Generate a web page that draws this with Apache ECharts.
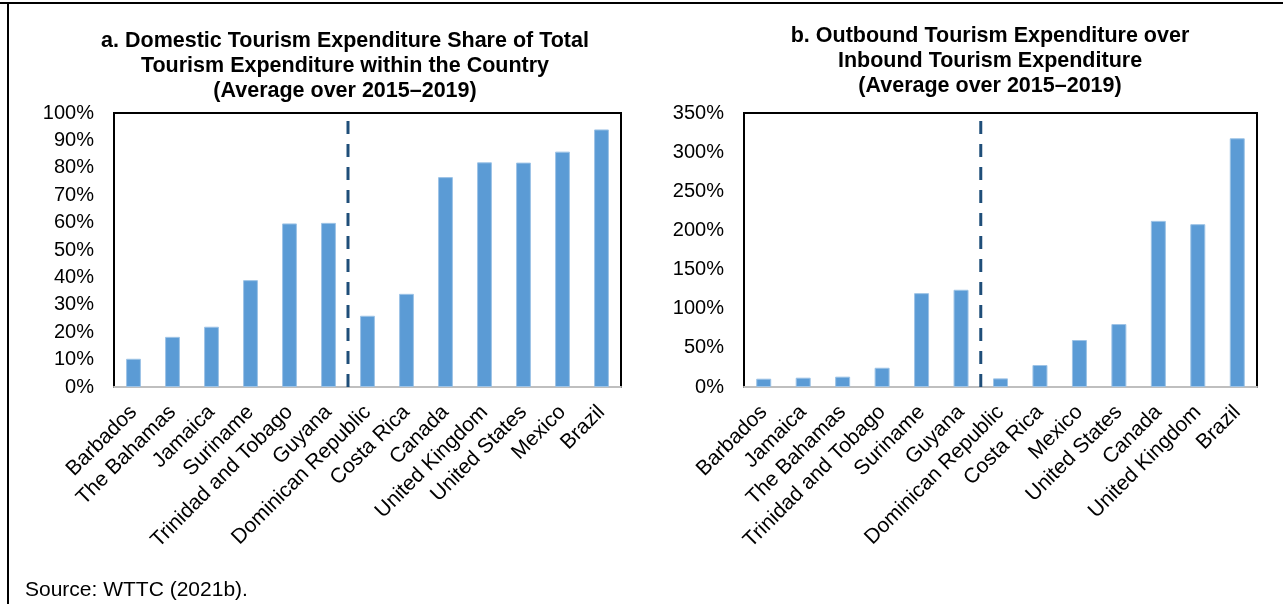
<!DOCTYPE html>
<html>
<head>
<meta charset="utf-8">
<script src="https://cdn.jsdelivr.net/npm/echarts@6/dist/echarts.min.js"></script>
<style>
  html, body { margin: 0; padding: 0; background: #fff; }
  #chart { width: 1283px; height: 604px; }
</style>
</head>
<body>
<div id="chart"></div>
<script>
// panel a: domestic share of total tourism expenditure (%)
const catsA = ['Barbados', 'The Bahamas', 'Jamaica', 'Suriname', 'Trinidad and Tobago', 'Guyana',
  'Dominican Republic', 'Costa Rica', 'Canada', 'United Kingdom', 'United States', 'Mexico', 'Brazil'];
const valsA = [10.3, 18.3, 22.0, 39.0, 59.7, 59.9, 26.0, 34.0, 76.6, 82.0, 81.9, 85.9, 94.0];

// panel b: outbound over inbound expenditure (%)
const catsB = ['Barbados', 'Jamaica', 'The Bahamas', 'Trinidad and Tobago', 'Suriname', 'Guyana',
  'Dominican Republic', 'Costa Rica', 'Mexico', 'United States', 'Canada', 'United Kingdom', 'Brazil'];
const valsB = [10.6, 11.9, 13.2, 24.6, 119.9, 124.2, 11.0, 28.1, 60.0, 80.4, 212.2, 208.0, 317.7];

// separator between the Caribbean group and the comparators (after 6 bars)
const splitAt = 6;

const font = 'Arial, "Liberation Sans", sans-serif';
const barColor = '#5B9BD5';
const dashColor = '#1F4E79';

const chart = echarts.init(document.getElementById('chart'));

function catAxis(idx, cats) {
  return {
    type: 'category', gridIndex: idx, data: cats,
    axisLine: { show: true, lineStyle: { color: '#bfbfbf', width: 2 } },
    axisTick: { show: false },
    axisLabel: { rotate: 45, interval: 0, margin: 22, color: '#000', fontSize: 21, fontFamily: font }
  };
}
function valAxis(idx, max, step) {
  return {
    type: 'value', gridIndex: idx, min: 0, max: max, interval: step,
    axisLine: { show: false }, axisTick: { show: false }, splitLine: { show: false },
    axisLabel: { margin: 20, color: '#000', fontSize: 20, fontFamily: font, formatter: '{value}%' }
  };
}
function sepAxis(idx) {
  return { type: 'value', gridIndex: idx, min: 0, max: catsA.length, show: false };
}

const titleStyle = { fontFamily: font, fontSize: 21.5, fontWeight: 'bold', color: '#000', lineHeight: 25 };

const option = {
  animation: false,
  title: [
    {
      text: 'a. Domestic Tourism Expenditure Share of Total\nTourism Expenditure within the Country\n(Average over 2015\u20132019)',
      left: 340, top: 24, textAlign: 'center', textStyle: titleStyle
    },
    {
      text: 'b. Outbound Tourism Expenditure over\nInbound Tourism Expenditure\n(Average over 2015\u20132019)',
      left: 985, top: 19, textAlign: 'center', textStyle: titleStyle
    }
  ],
  grid: [
    { left: 114, top: 113, width: 507, height: 274, show: true, borderColor: '#000', borderWidth: 2, backgroundColor: 'transparent' },
    { left: 744, top: 113, width: 513, height: 274, show: true, borderColor: '#000', borderWidth: 2, backgroundColor: 'transparent' }
  ],
  xAxis: [catAxis(0, catsA), catAxis(1, catsB), sepAxis(0), sepAxis(1)],
  yAxis: [valAxis(0, 100, 10), valAxis(1, 350, 50)],
  series: [
    {
      type: 'bar', xAxisIndex: 0, yAxisIndex: 0, data: valsA, barWidth: '38%',
      itemStyle: { color: barColor, borderColor: '#9DC3E6', borderWidth: 1 }
    },
    {
      type: 'bar', xAxisIndex: 1, yAxisIndex: 1, data: valsB, barWidth: '38%',
      itemStyle: { color: barColor, borderColor: '#9DC3E6', borderWidth: 1 }
    },
    {
      type: 'line', xAxisIndex: 2, yAxisIndex: 0, data: [[splitAt, 0], [splitAt, 100]],
      symbol: 'none', lineStyle: { color: dashColor, width: 3, type: [13, 10] }
    },
    {
      type: 'line', xAxisIndex: 3, yAxisIndex: 1, data: [[splitAt, 0], [splitAt, 350]],
      symbol: 'none', lineStyle: { color: dashColor, width: 3, type: [13, 10] }
    }
  ],
  graphic: [
    { type: 'line', shape: { x1: 0, y1: 3, x2: 1283, y2: 3 }, style: { stroke: '#000', lineWidth: 2 } },
    { type: 'line', shape: { x1: 8, y1: 3, x2: 8, y2: 604 }, style: { stroke: '#000', lineWidth: 2 } },
    {
      type: 'text', left: 25, top: 580,
      style: { text: 'Source: WTTC (2021b).', font: '21px ' + font, fill: '#000' }
    }
  ]
};

chart.setOption(option);
</script>
</body>
</html>
